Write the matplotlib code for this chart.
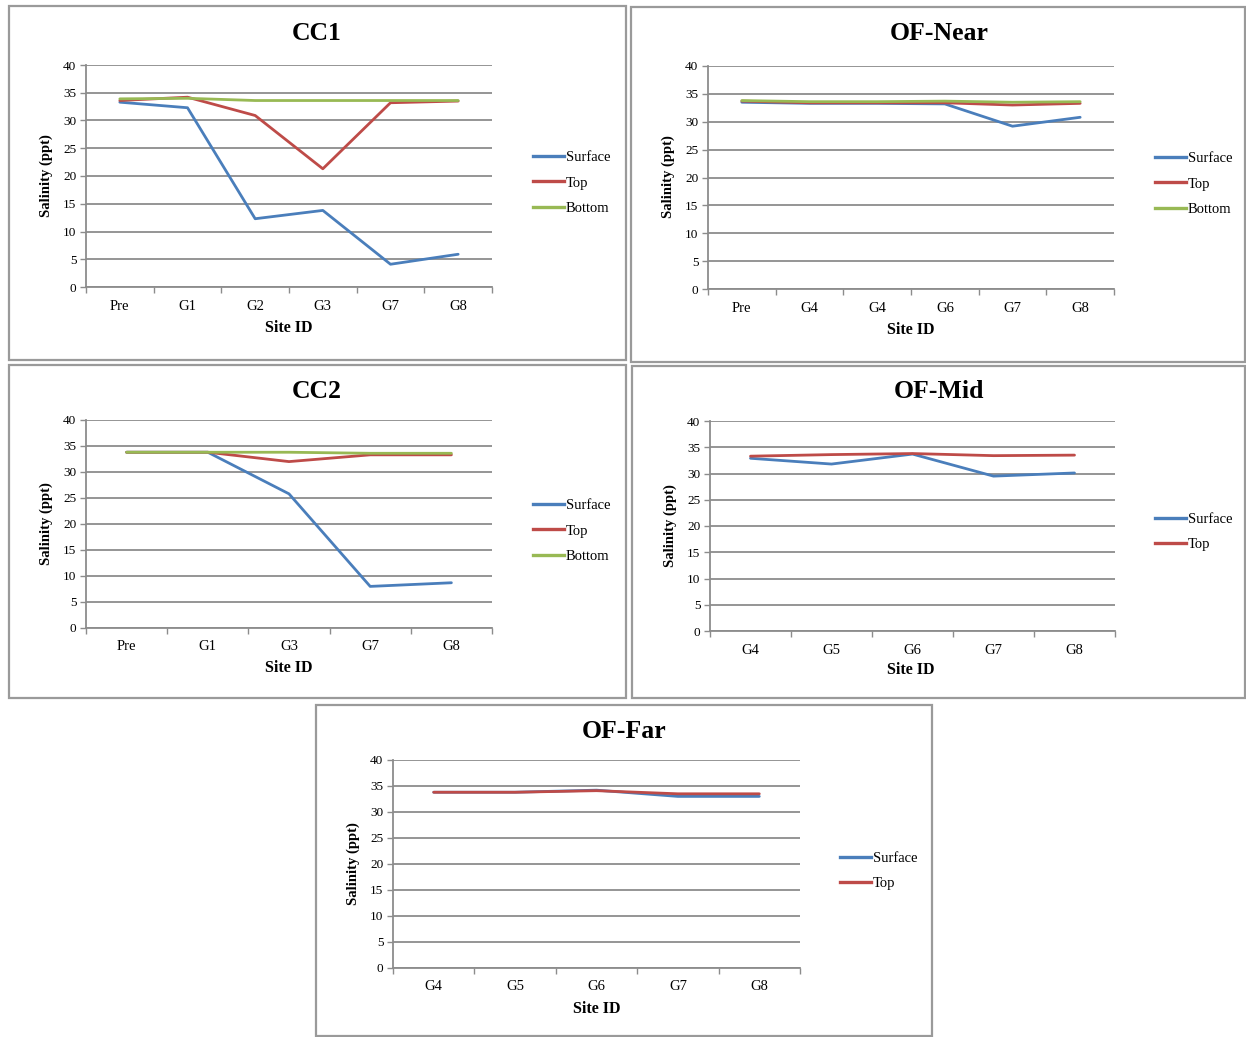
import matplotlib
matplotlib.use("Agg")
import matplotlib.pyplot as plt
from matplotlib.patches import Rectangle
from matplotlib.lines import Line2D

W, H = 1246, 1037
plt.rcParams['font.family'] = ['Liberation Serif', 'DejaVu Serif']

# ---------------- data ----------------
cc1_sites = ["Pre", "G1", "G2", "G3", "G7", "G8"]
cc1_surface = [33.3, 32.3, 12.3, 13.8, 4.1, 5.9]
cc1_top = [33.6, 34.2, 30.9, 21.3, 33.2, 33.5]
cc1_bottom = [33.9, 34.0, 33.6, 33.6, 33.6, 33.6]

ofnear_sites = ["Pre", "G4", "G4", "G6", "G7", "G8"]
ofnear_surface = [33.5, 33.3, 33.3, 33.2, 29.2, 30.8]
ofnear_top = [33.7, 33.4, 33.4, 33.4, 33.0, 33.3]
ofnear_bottom = [33.8, 33.6, 33.6, 33.7, 33.5, 33.6]

cc2_sites = ["Pre", "G1", "G3", "G7", "G8"]
cc2_surface = [33.8, 33.8, 25.8, 8.0, 8.7]
cc2_top = [33.8, 33.8, 32.0, 33.3, 33.3]
cc2_bottom = [33.8, 33.8, 33.8, 33.6, 33.6]

ofmid_sites = ["G4", "G5", "G6", "G7", "G8"]
ofmid_surface = [32.9, 31.8, 33.7, 29.5, 30.1]
ofmid_top = [33.3, 33.6, 33.8, 33.4, 33.5]

offar_sites = ["G4", "G5", "G6", "G7", "G8"]
offar_surface = [33.8, 33.8, 34.2, 33.0, 33.0]
offar_top = [33.8, 33.8, 34.1, 33.5, 33.5]

y_ticks = [0, 5, 10, 15, 20, 25, 30, 35, 40]

BLUE = "#4a7ebb"
RED = "#be4b48"
GREEN = "#98b954"

fig = plt.figure(figsize=(W / 100, H / 100), dpi=100)


def frac_rect(x0, y0, x1, y1):
    return [x0 / W, 1 - y1 / H, (x1 - x0) / W, (y1 - y0) / H]


def ftext(x, y, s, **kw):
    fig.text(x / W, 1 - y / H, s, ha='center', va='center', **kw)


# panel frames
for (x0, y0, x1, y1) in [(9, 6, 626, 360), (631, 7, 1245, 362), (9, 365, 626, 698),
                         (632, 366, 1245, 698), (316, 705, 932, 1036)]:
    fig.patches.append(Rectangle((x0 / W, 1 - y1 / H), (x1 - x0) / W, (y1 - y0) / H,
                                 transform=fig.transFigure, fill=False,
                                 edgecolor="#9a9a9a", linewidth=1.6))


def panel(rect, sites, series, title, title_xy, xlabel_xy, ylabel_xy, leg_xy):
    ax = fig.add_axes(frac_rect(*rect))
    n = len(sites)
    x = list(range(n))
    handles = []
    for name, vals, col in series:
        ax.plot(x, vals, color=col, lw=2.0, solid_capstyle='round', zorder=3)
        handles.append(Line2D([], [], color=col, lw=2.4))
    ax.set_xlim(-0.5, n - 0.5)
    ax.set_ylim(0, 40)
    ax.set_yticks(y_ticks)
    ax.yaxis.grid(True, color="#8c8c8c", lw=1.3)
    ax.set_axisbelow(True)
    ax.set_xticks([i - 0.5 for i in range(n + 1)])
    ax.set_xticklabels([])
    ax.set_xticks(x, minor=True)
    ax.set_xticklabels(sites, minor=True, fontsize=10.5)
    ax.tick_params(axis='x', which='major', length=4, width=1, color="#8c8c8c", direction='out')
    ax.tick_params(axis='x', which='minor', length=0, pad=9)
    ax.tick_params(axis='y', length=4, width=1, color="#8c8c8c", labelsize=9.5, pad=3)
    for s in ['top', 'right']:
        ax.spines[s].set_visible(False)
    for s in ['left', 'bottom']:
        ax.spines[s].set_color("#8c8c8c")
        ax.spines[s].set_linewidth(1.3)
    ftext(*title_xy, title, fontsize=18.5, fontweight='bold')
    ftext(*xlabel_xy, "Site ID", fontsize=11.5, fontweight='bold')
    ftext(*ylabel_xy, "Salinity (ppt)", fontsize=10.5, fontweight='bold', rotation=90)
    ax.legend(handles, [s[0] for s in series], loc='center left',
              bbox_to_anchor=(leg_xy[0] / W, 1 - leg_xy[1] / H),
              bbox_transform=fig.transFigure, frameon=False, fontsize=10.5,
              handlelength=2.1, handletextpad=0.15, labelspacing=0.85,
              borderpad=0, borderaxespad=0)
    return ax


panel((86, 65, 492, 287), cc1_sites,
      [("Surface", cc1_surface, BLUE), ("Top", cc1_top, RED), ("Bottom", cc1_bottom, GREEN)],
      "CC1", (317, 33), (289, 328), (46, 176), (533, 183))

panel((708, 66, 1114, 289), ofnear_sites,
      [("Surface", ofnear_surface, BLUE), ("Top", ofnear_top, RED), ("Bottom", ofnear_bottom, GREEN)],
      "OF-Near", (939, 34), (911, 330), (668, 177), (1155, 184))

panel((86, 420, 492, 628), cc2_sites,
      [("Surface", cc2_surface, BLUE), ("Top", cc2_top, RED), ("Bottom", cc2_bottom, GREEN)],
      "CC2", (317, 392), (289, 668), (46, 524), (533, 531))

panel((710, 421, 1115, 631), ofmid_sites,
      [("Surface", ofmid_surface, BLUE), ("Top", ofmid_top, RED)],
      "OF-Mid", (939, 392), (911, 670), (670, 526), (1155, 532))

panel((393, 760, 800, 968), offar_sites,
      [("Surface", offar_surface, BLUE), ("Top", offar_top, RED)],
      "OF-Far", (624, 732), (597, 1009), (353, 864), (840, 871))

fig.savefig("out.png", dpi=100)
